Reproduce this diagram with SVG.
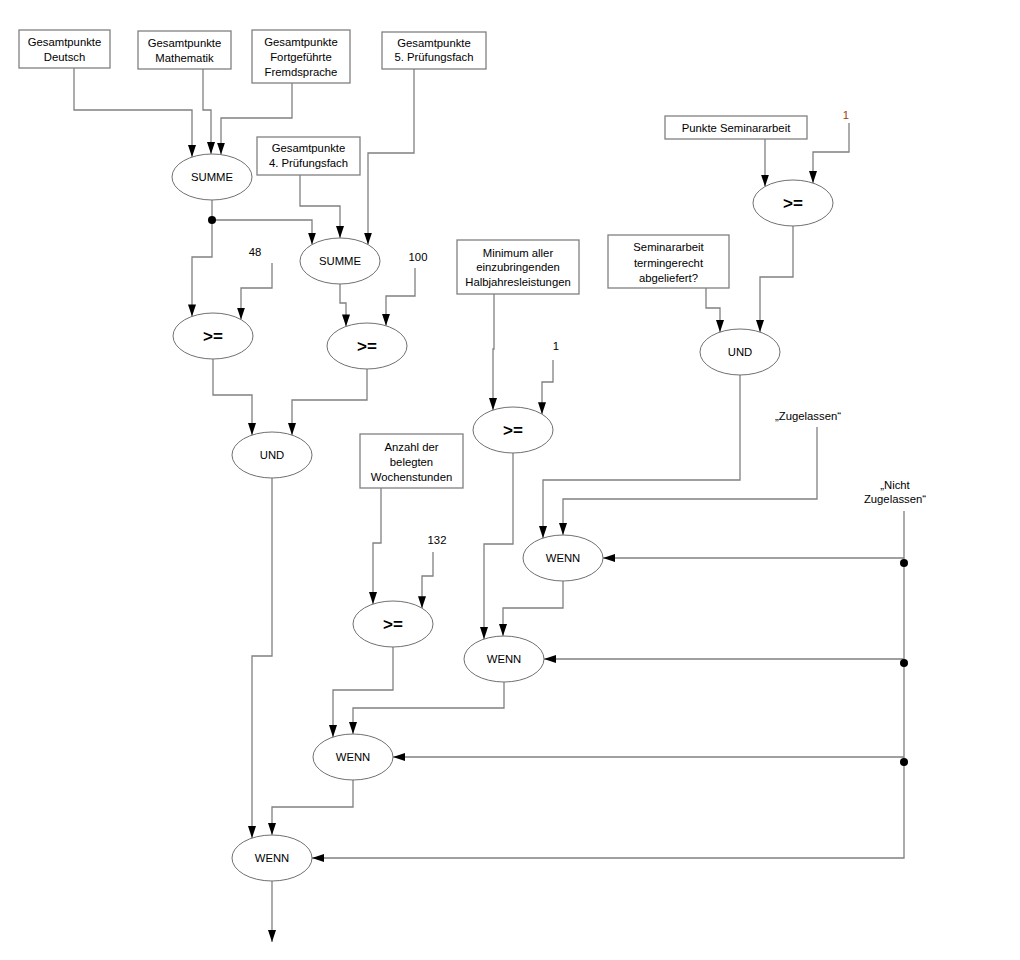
<svg xmlns="http://www.w3.org/2000/svg" width="1020" height="960" viewBox="0 0 1020 960">
<style>
.box{fill:#fff;stroke:#808080;stroke-width:1.3}
.ell{fill:#fff;stroke:#707070;stroke-width:1}
.t{font-family:"Liberation Sans",Arial,sans-serif;font-size:11.3px;fill:#000;text-anchor:middle}
.op{font-family:"Liberation Sans",Arial,sans-serif;font-size:17px;font-weight:bold;fill:#000;text-anchor:middle}
.c{fill:none;stroke:#808080;stroke-width:1.3}
.a{marker-end:url(#arr)}
.dot{fill:#000}
</style>
<defs>
<marker id="arr" markerUnits="userSpaceOnUse" markerWidth="12" markerHeight="8" viewBox="0 0 12 8" refX="12" refY="4" orient="auto">
<path d="M0,0 L12,4 L0,8 z" fill="#000"/>
</marker>
</defs>
<rect width="1020" height="960" fill="#fff"/>
<g id="connectors">
<polyline class="c a" points="74,68 74,110 192,110 192,157"/>
<polyline class="c a" points="203,69 203,110 211,110 211,154"/>
<polyline class="c a" points="292,83 292,118 221,118 221,154.6"/>
<polyline class="c" points="212,200 212,220"/>
<polyline class="c a" points="212,220 312,220 312,244.6"/>
<polyline class="c a" points="212,220 212,257 192,257 192,316.4"/>
<polyline class="c a" points="300,175 300,206 340,206 340,238"/>
<polyline class="c a" points="414,69 414,153 368,153 368,244.6"/>
<polyline class="c a" points="272,263 272,288 241,288 241,319.6"/>
<polyline class="c a" points="340,284 340,303 346,303 346,326.4"/>
<polyline class="c a" points="415,268 415,296 386,296 386,325.8"/>
<polyline class="c a" points="213,359 213,395 252,395 252,435.1"/>
<polyline class="c a" points="367,369 367,400 292,400 292,435.1"/>
<polyline class="c a" points="272,478 272,656 252,656 252,838.1"/>
<polyline class="c a" points="381,488 381,543 373,543 373,604.1"/>
<polyline class="c a" points="433,552 433,576 422,576 422,608.2"/>
<polyline class="c a" points="393,647 393,690 333,690 333,737.1"/>
<polyline class="c a" points="504,682 504,708 353,708 353,734"/>
<polyline class="c a" points="353,780 353,807 272,807 272,835"/>
<polyline class="c a" points="272,881 272,942"/>
<polyline class="c a" points="494,294 494,349 493,349 493,410.1"/>
<polyline class="c a" points="553,360 553,382 542,382 542,414.2"/>
<polyline class="c a" points="513,453 513,544 484,544 484,639.1"/>
<polyline class="c a" points="563,581 563,608 503,608 503,636"/>
<polyline class="c a" points="740,375 740,480 543,480 543,538.1"/>
<polyline class="c a" points="817,427 817,499 563,499 563,535"/>
<polyline class="c a" points="765,139 765,186.6"/>
<polyline class="c a" points="849,123 849,152 813,152 813,183.1"/>
<polyline class="c a" points="793,226 793,277 760,277 760,332.1"/>
<polyline class="c a" points="706,288 706,308 720,308 720,332.1"/>
<polyline class="c a" points="904,511 904,858 312,858"/>
<polyline class="c a" points="904,558 603,558"/>
<polyline class="c a" points="904,659 544,659"/>
<polyline class="c a" points="904,757 393,757"/>
<circle class="dot" cx="212" cy="220" r="4"/>
<circle class="dot" cx="904" cy="563" r="4"/>
<circle class="dot" cx="904" cy="663" r="4"/>
<circle class="dot" cx="904" cy="762" r="4"/>
</g>
<g id="n_deutsch"><rect class="box" x="19" y="30" width="91" height="38"/><text class="t" x="64.5" y="46">Gesamtpunkte</text><text class="t" x="64.5" y="61">Deutsch</text></g>
<g id="n_mathe"><rect class="box" x="138" y="31" width="93" height="38"/><text class="t" x="184.5" y="47">Gesamtpunkte</text><text class="t" x="184.5" y="62">Mathematik</text></g>
<g id="n_fremd"><rect class="box" x="252" y="30" width="98" height="53"/><text class="t" x="301" y="46">Gesamtpunkte</text><text class="t" x="301" y="61">Fortgeführte</text><text class="t" x="301" y="76">Fremdsprache</text></g>
<g id="n_pf5"><rect class="box" x="382" y="32" width="104" height="37"/><text class="t" x="434" y="47">Gesamtpunkte</text><text class="t" x="434" y="61">5. Prüfungsfach</text></g>
<g id="n_pf4"><rect class="box" x="257" y="137" width="103" height="38"/><text class="t" x="308.5" y="152">Gesamtpunkte</text><text class="t" x="308.5" y="167">4. Prüfungsfach</text></g>
<g id="n_min"><rect class="box" x="457" y="240" width="122" height="54"/><text class="t" x="518" y="257">Minimum aller</text><text class="t" x="518" y="271">einzubringenden</text><text class="t" x="518" y="286">Halbjahresleistungen</text></g>
<g id="n_semterm"><rect class="box" x="608" y="235" width="121" height="53"/><text class="t" x="668.5" y="251">Seminararbeit</text><text class="t" x="668.5" y="267">termingerecht</text><text class="t" x="668.5" y="282">abgeliefert?</text></g>
<g id="n_sempkt"><rect class="box" x="665" y="116" width="142" height="23"/><text class="t" x="736" y="132">Punkte Seminararbeit</text></g>
<g id="n_anzahl"><rect class="box" x="360" y="434" width="103" height="54"/><text class="t" x="411.5" y="451">Anzahl der</text><text class="t" x="411.5" y="466">belegten</text><text class="t" x="411.5" y="481">Wochenstunden</text></g>
<g id="n_summe1"><ellipse class="ell" cx="212" cy="177" rx="40" ry="23"/><text class="t" x="212" y="181">SUMME</text></g>
<g id="n_summe2"><ellipse class="ell" cx="340" cy="261" rx="40" ry="23"/><text class="t" x="340" y="265">SUMME</text></g>
<g id="n_ge48"><ellipse class="ell" cx="213" cy="336" rx="40" ry="23"/><text class="op" x="213" y="342">&gt;=</text></g>
<g id="n_ge100"><ellipse class="ell" cx="367" cy="346" rx="40" ry="23"/><text class="op" x="367" y="352">&gt;=</text></g>
<g id="n_und1"><ellipse class="ell" cx="272" cy="455" rx="40" ry="23"/><text class="t" x="272" y="459">UND</text></g>
<g id="n_gemin"><ellipse class="ell" cx="513" cy="430" rx="40" ry="23"/><text class="op" x="513" y="436">&gt;=</text></g>
<g id="n_gesem"><ellipse class="ell" cx="793" cy="203" rx="40" ry="23"/><text class="op" x="793" y="209">&gt;=</text></g>
<g id="n_und2"><ellipse class="ell" cx="740" cy="352" rx="40" ry="23"/><text class="t" x="740" y="356">UND</text></g>
<g id="n_wenn1"><ellipse class="ell" cx="563" cy="558" rx="40" ry="23"/><text class="t" x="563" y="562">WENN</text></g>
<g id="n_ge132"><ellipse class="ell" cx="393" cy="624" rx="40" ry="23"/><text class="op" x="393" y="630">&gt;=</text></g>
<g id="n_wenn2"><ellipse class="ell" cx="504" cy="659" rx="40" ry="23"/><text class="t" x="504" y="663">WENN</text></g>
<g id="n_wenn3"><ellipse class="ell" cx="353" cy="757" rx="40" ry="23"/><text class="t" x="353" y="761">WENN</text></g>
<g id="n_wenn4"><ellipse class="ell" cx="272" cy="858" rx="40" ry="23"/><text class="t" x="272" y="862">WENN</text></g>
<g id="n_c48"><text class="t" x="255" y="256">48</text></g>
<g id="n_c100"><text class="t" x="418" y="261">100</text></g>
<g id="n_c132"><text class="t" x="437" y="544">132</text></g>
<g id="n_c1a"><text class="t" x="556" y="350">1</text></g>
<g id="n_c1b"><text class="t" x="846" y="119" style="fill:#a04000">1</text></g>
<g id="n_zug"><text class="t" x="808" y="420">„Zugelassen“</text></g>
<g id="n_nicht"><text class="t" x="895" y="489">„Nicht</text><text class="t" x="895" y="503">Zugelassen“</text></g>
</svg>
